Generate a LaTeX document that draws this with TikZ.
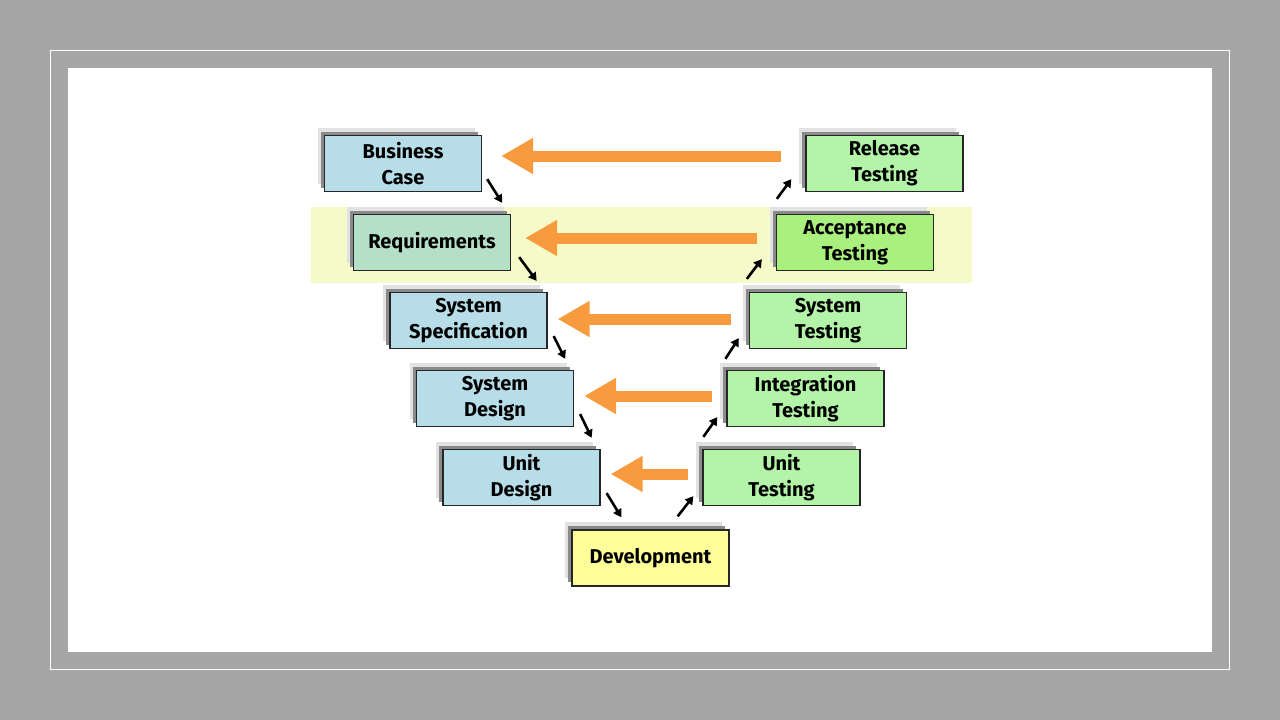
\documentclass[tikz,border=0pt]{standalone}
\usepackage{fontspec}
\setmainfont{Fira Sans}
\usetikzlibrary{arrows.meta,shadows}
\definecolor{bggray}{HTML}{A6A6A6}
\definecolor{lblue}{HTML}{B7DEE8}
\definecolor{lteal}{HTML}{B4E0C8}
\definecolor{lgreen}{HTML}{B3F4A8}
\definecolor{bgreen}{HTML}{AAF07E}
\definecolor{lyellow}{HTML}{FFFF99}
\definecolor{band}{HTML}{F5FAC8}
\definecolor{orng}{HTML}{F89A3E}
\definecolor{shlight}{HTML}{E2E2E2}
\definecolor{shdark}{HTML}{8A8A8A}
\tikzset{
  vbox/.style={draw=black!85, line width=1.3pt, minimum width=157pt, minimum height=56pt,
    inner sep=0pt, align=center, font=\bfseries\fontsize{20}{26}\selectfont,
    general shadow={shadow xshift=-7pt, shadow yshift=8pt, fill=shlight},
    general shadow={shadow xshift=-4pt, shadow yshift=4pt, fill=shdark}},
  oarrow/.style={draw=orng, line width=11pt, -{Triangle[width=34pt,length=32pt]}},
  barrow/.style={draw=black, line width=2.6pt, -{Triangle[width=9pt,length=8pt]}}
}
\begin{document}
\begin{tikzpicture}[x=1pt,y=-1pt]
\fill[bggray] (0,0) rectangle (1280,720);
\useasboundingbox (0,0) rectangle (1280,720);
\draw[white, line width=1.2pt] (50.5,50.5) rectangle (1229.5,669.5);
\fill[white] (68,68) rectangle (1212,652);
\fill[band] (311,207) rectangle (972,283);
% left side
\node[vbox, fill=lblue] (bc) at (403,163.5) {Business\\Case};
\node[vbox, fill=lteal] (req) at (432,242.5) {Requirements};
\node[vbox, fill=lblue] (ss) at (468.5,320.5) {System\\Specification};
\node[vbox, fill=lblue] (sd) at (495,398.5) {System\\Design};
\node[vbox, fill=lblue] (ud) at (521.5,477.5) {Unit\\Design};
\node[vbox, fill=lyellow] (dev) at (650.5,558) {Development};
% right side
\node[vbox, fill=lgreen] (ut) at (781.5,477.5) {Unit\\Testing};
\node[vbox, fill=lgreen] (it) at (805.5,398.5) {Integration\\Testing};
\node[vbox, fill=lgreen] (st) at (828,320.5) {System\\Testing};
\node[vbox, fill=bgreen] (at) at (855,242.5) {Acceptance\\Testing};
\node[vbox, fill=lgreen] (rt) at (884.5,163.5) {Release\\Testing};
% orange arrows
\draw[oarrow] ([shift={(-24,-7.5)}]rt.west) -- ([shift={(19,-7.5)}]bc.east);
\draw[oarrow] ([shift={(-19,-4.5)}]at.west) -- ([shift={(14,-4.5)}]req.east);
\draw[oarrow] ([shift={(-18,-1.5)}]st.west) -- ([shift={(10,-1.5)}]ss.east);
\draw[oarrow] ([shift={(-14,-2.5)}]it.west) -- ([shift={(10,-2.5)}]sd.east);
\draw[oarrow] ([shift={(-14,-3.5)}]ut.west) -- ([shift={(10,-3.5)}]ud.east);
% black arrows down the left
\draw[barrow] ([shift={(5,-13)}]bc.south east) -- ([shift={(-9,-11)}]req.north east);
\draw[barrow] ([shift={(8,-14)}]req.south east) -- ([shift={(-11,-11)}]ss.north east);
\draw[barrow] ([shift={(6,-13)}]ss.south east) -- ([shift={(-9,-11)}]sd.north east);
\draw[barrow] ([shift={(6,-13)}]sd.south east) -- ([shift={(-9,-11)}]ud.north east);
\draw[barrow] ([shift={(6,-13)}]ud.south east) -- ([shift={(50,-12)}]dev.north west);
% black arrows up the right
\draw[barrow] ([shift={(-52,-13)}]dev.north east) -- ([shift={(-9,-10)}]ut.south west);
\draw[barrow] ([shift={(1,-12)}]ut.north west) -- ([shift={(-9,-10)}]it.south west);
\draw[barrow] ([shift={(-1,-11)}]it.north west) -- ([shift={(-10,-11)}]st.south west);
\draw[barrow] ([shift={(-2,-13)}]st.north west) -- ([shift={(-14,-12)}]at.south west);
\draw[barrow] ([shift={(1,-15)}]at.north west) -- ([shift={(-14,-13)}]rt.south west);
\end{tikzpicture}
\end{document}
